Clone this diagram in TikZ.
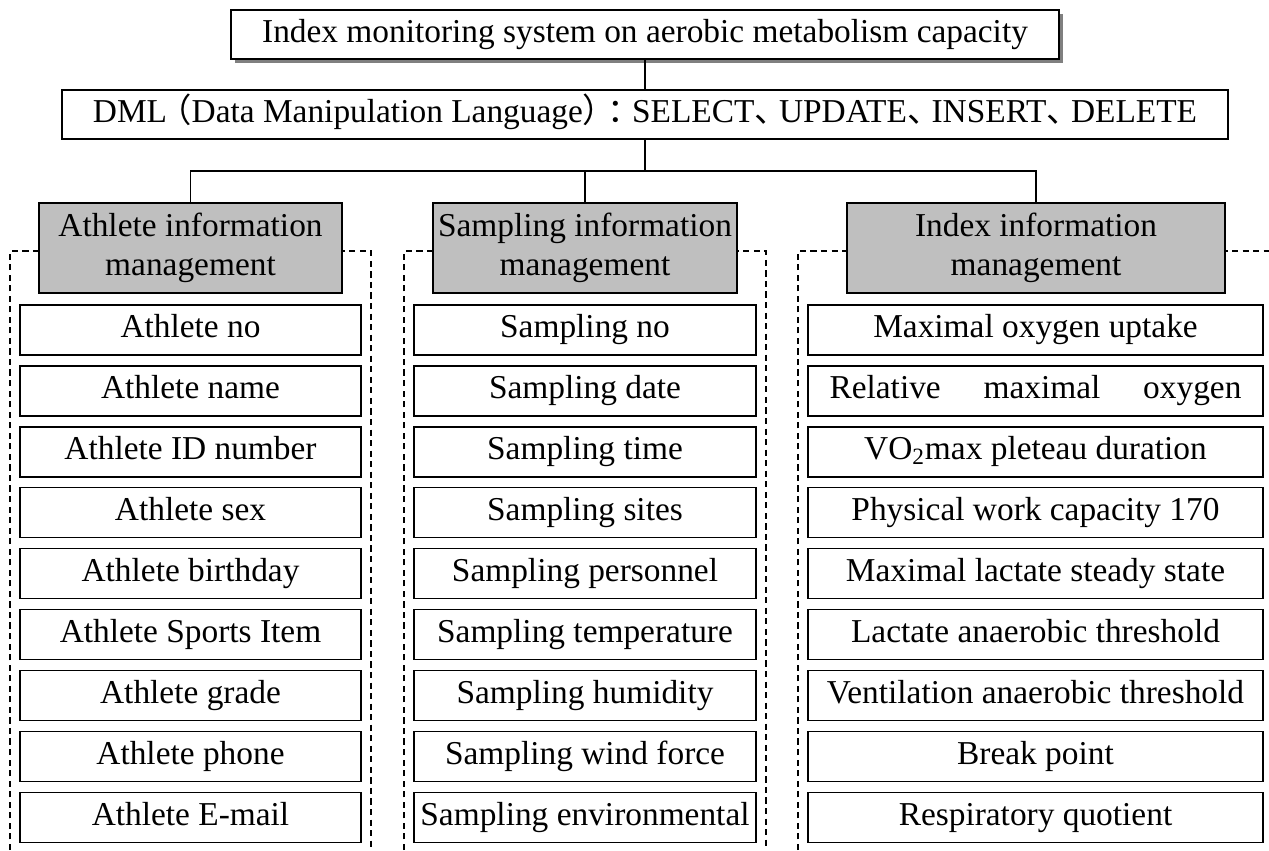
\documentclass[tikz,border=0pt]{standalone}
\usepackage{fontspec}
\setmainfont{Liberation Serif}
\newfontfamily\cjk{Noto Sans CJK SC}
\usetikzlibrary{shadows}
\newcommand{\cjkp}[1]{{\cjk #1}}

\begin{document}
\begin{tikzpicture}[x=0.02cm, y=-0.02cm,
	font=\fontsize{19}{22}\selectfont,
	topbox/.style={draw, line width=0.8pt, fill=white, inner sep=0pt, minimum height=0.98cm, text height=13pt, text depth=4pt},
	headbox/.style={draw, line width=0.8pt, fill=black!25, align=center, inner sep=0pt, minimum height=1.8cm},
	itembox/.style={draw, line width=0.8pt, fill=white, inner sep=0pt, minimum height=1cm, text height=13pt, text depth=4pt},
	dashframe/.style={line width=0.7pt, dash pattern=on 3.5pt off 2.5pt},
	link/.style={line width=0.8pt}]
			%%%%% START %%%%%
			\useasboundingbox (0,0) rectangle (1269,850);
			
			\node[topbox, minimum width=16.56cm, drop shadow={shadow xshift=0.08cm, shadow yshift=-0.08cm, fill=black!50, opacity=1}] (top) at (645,34.5) {Index monitoring system on aerobic metabolism capacity};
			\node[topbox, minimum width=23.32cm] (dml) at (645,114.5) {DML\kern-5pt\cjkp{（}Data Manipulation Language\cjkp{）}\kern-5pt\cjkp{：}\kern-5pt SELECT\cjkp{、}\kern-5pt UPDATE\cjkp{、}\kern-5pt INSERT\cjkp{、}\kern-5pt DELETE};
			
			% dashed groups
			\draw[dashframe] (10,850) -- (10,251) -- (371,251) -- (371,850);
			\draw[dashframe] (404,850) -- (404,251) -- (766,251) -- (766,850);
			\draw[dashframe] (798,850) -- (798,251) -- (1269,251);
			
			\node[headbox, minimum width=6.06cm] (athHead) at (190.5,248) {Athlete information\\management};
			\node[headbox, minimum width=6.08cm] (smpHead) at (585,248) {Sampling information\\management};
			\node[headbox, minimum width=7.56cm] (idxHead) at (1036,248) {Index information\\management};
			
			\coordinate (bus) at (645,171);
			\draw[link] (top) -- (dml);
			\draw[link] (dml) -- (bus);
			\draw[link] (athHead) |- (bus) -| (idxHead);
			\draw[link] (smpHead) -- (smpHead |- bus);
			
			% items
			\foreach \t [count=\i] in {Athlete no, Athlete name, Athlete ID number, Athlete sex, Athlete birthday, Athlete Sports Item, Athlete grade, Athlete phone, Athlete E-mail}
				\node[itembox, minimum width=6.82cm] (ath\i) at (190.5,{269.1+60.9*\i}) {\t};
			
			\foreach \t [count=\i] in {Sampling no, Sampling date, Sampling time, Sampling sites, Sampling personnel, Sampling temperature, Sampling humidity, Sampling wind force, Sampling environmental}
				\node[itembox, minimum width=6.84cm] (smp\i) at (585,{269.1+60.9*\i}) {\t};
			
			\foreach \t [count=\i] in {Maximal oxygen uptake, {\makebox[8.24cm]{Relative\hfill maximal\hfill oxygen}}, {VO\textsubscript{2}max pleteau duration}, Physical work capacity 170, Maximal lactate steady state, Lactate anaerobic threshold, Ventilation anaerobic threshold, Break point, Respiratory quotient}
				\node[itembox, minimum width=9.1cm] (idx\i) at (1035.5,{269.1+60.9*\i}) {\t};
			
			%%%%% END %%%%%
\end{tikzpicture}
\end{document}
